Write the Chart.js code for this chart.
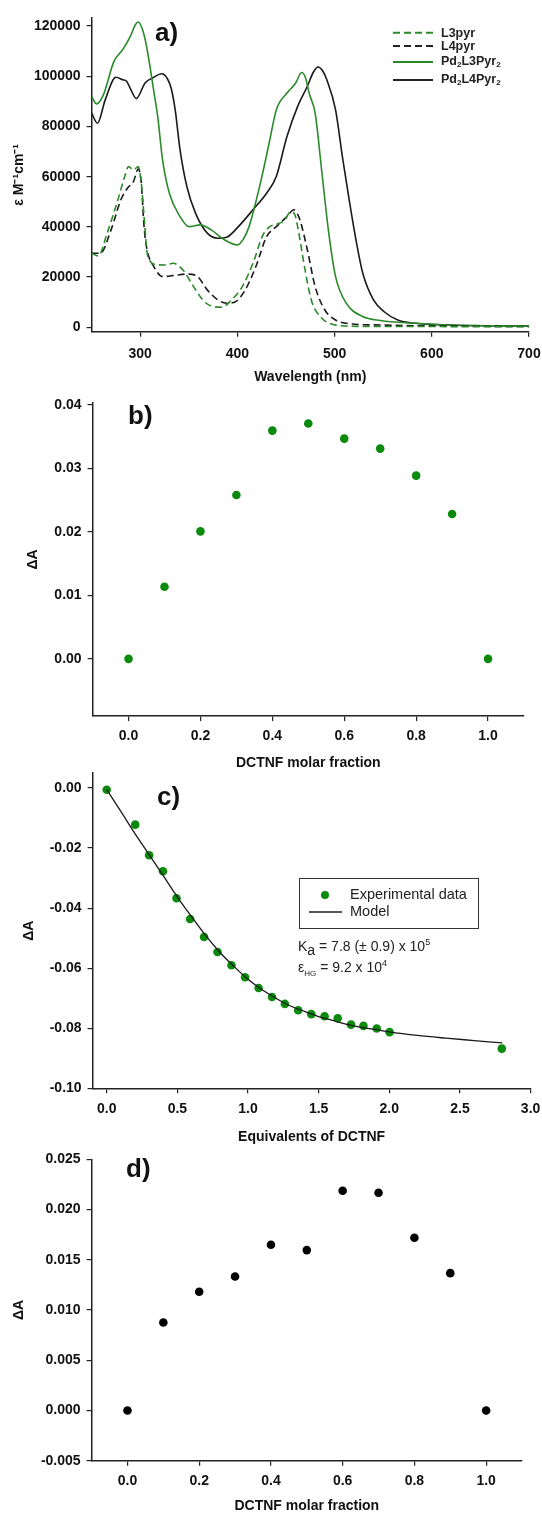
<!DOCTYPE html>
<html><head><meta charset="utf-8">
<script src="https://cdn.jsdelivr.net/npm/chart.js@4.4.0/dist/chart.umd.min.js"></script>
<style>
html,body{margin:0;padding:0;background:#fff;overflow:hidden;}
body{width:542px;height:1513px;position:relative;overflow:hidden;font-family:"Liberation Sans",Arial,sans-serif;color:#111;}
canvas{position:absolute;left:0;}
.plab{position:absolute;font-weight:bold;font-size:26px;line-height:26px;color:#111;white-space:nowrap;}
.leg{position:absolute;font-weight:bold;font-size:12.5px;line-height:12px;color:#222;white-space:nowrap;}
.leg sub{font-size:8px;vertical-align:-2px;line-height:0;}
.lsvg{position:absolute;}
.ktxt{position:absolute;font-size:14px;line-height:14px;color:#222;white-space:nowrap;}
.ktxt sup{font-size:9px;vertical-align:6px;line-height:0;}
.ktxt sub.a{font-size:14px;vertical-align:-4px;line-height:0;}
.ktxt sub.hg{font-size:8px;vertical-align:-4px;line-height:0;}
#cbox{position:absolute;left:299px;top:878px;width:180px;height:51px;box-sizing:border-box;border:1.5px solid #333;}
.ctxt{position:absolute;font-size:14.5px;line-height:15px;color:#222;white-space:nowrap;}
</style>
</head><body>
<canvas id="ca" width="600" height="390" style="top:0px"></canvas>
<canvas id="cb" width="600" height="388" style="top:388px"></canvas>
<canvas id="cc" width="600" height="391" style="top:758px"></canvas>
<canvas id="cd" width="600" height="369" style="top:1144px"></canvas>

<div class="plab" style="left:155px;top:19px">a)</div>
<div class="plab" style="left:128px;top:402px">b)</div>
<div class="plab" style="left:157px;top:783px">c)</div>
<div class="plab" style="left:126px;top:1155px">d)</div>

<!-- legend a -->
<svg class="lsvg" style="left:393px;top:27px" width="42" height="60">
  <line x1="0" y1="5.7" x2="40" y2="5.7" stroke="#2a8a2a" stroke-width="2" stroke-dasharray="7,4"/>
  <line x1="0" y1="19" x2="40" y2="19" stroke="#222" stroke-width="2" stroke-dasharray="7,4"/>
  <line x1="0" y1="35" x2="40" y2="35" stroke="#2a8a2a" stroke-width="2"/>
  <line x1="0" y1="53" x2="40" y2="53" stroke="#222" stroke-width="2"/>
</svg>
<div class="leg" style="left:441px;top:26.5px">L3pyr</div>
<div class="leg" style="left:441px;top:40px">L4pyr</div>
<div class="leg" style="left:441px;top:55px">Pd<sub>2</sub>L3Pyr<sub>2</sub></div>
<div class="leg" style="left:441px;top:73px">Pd<sub>2</sub>L4Pyr<sub>2</sub></div>

<!-- legend c -->
<div id="cbox"></div>
<svg class="lsvg" style="left:305px;top:888px" width="40" height="30">
  <circle cx="20" cy="7" r="4" fill="#0b8a0b"/>
  <line x1="4" y1="24" x2="37" y2="24" stroke="#222" stroke-width="1.5"/>
</svg>
<div class="ctxt" style="left:350px;top:887px">Experimental data</div>
<div class="ctxt" style="left:350px;top:904px">Model</div>
<div class="ktxt" style="left:298px;top:939px">K<sub class="a">a</sub> = 7.8 (± 0.9) x 10<sup>5</sup></div>
<div class="ktxt" style="left:298px;top:960px">ε<sub class="hg">HG</sub> = 9.2 x 10<sup>4</sup></div>

<script>
// ---------- Panel a: UV-vis spectra ----------
const wlL3pyr = [250,257,266,277,284,288,293,298,301,304,307,311,316,325,334,344,355,366,376,384,394,405,416,426,433,440,448,455,459,462,469,476,487,497,512,550,600,650,700];
const epsL3pyr = [29500,28400,37500,50700,60000,64000,62700,64000,58000,44000,30000,26000,25000,24800,25500,22800,16200,10200,8200,8000,10900,16200,25500,36500,40000,41000,42500,46000,45000,40100,24200,10900,3600,1300,500,300,300,200,200];

const wlL4pyr = [250,259,270,280,287,293,298,301,304,307,314,323,337,348,359,369,380,389,398,408,419,430,440,451,458,462,465,472,480,490,501,512,547,618,700];
const epsL4pyr = [29500,29500,38800,50700,55500,58000,63000,58000,40000,31000,24200,20200,20800,21200,20200,14900,10900,9600,10200,14900,24200,36100,40100,44100,46800,45000,42000,30800,16200,6900,2900,1600,900,500,300];

const wlPdL3 = [250,255,262,273,282,290,295,298,302,306,310,314,318,323,330,341,350,362,373,387,400,406,412,419,426,433,440,451,460,466,470,474,480,487,494,501,512,529,547,583,618,700];
const epsPdL3 = [92000,89000,92500,105900,110600,116000,120500,121600,119000,113000,104000,94000,84000,66700,53400,44100,40100,40800,38800,34800,32800,35000,40100,50000,61400,74000,86600,93300,97300,101500,99500,93000,85300,61400,37500,20200,9600,4300,2700,1600,900,500];

const wlPdL4 = [250,256,264,275,282,286,290,296,305,314,322,328,332,336,341,348,357,369,380,389,401,416,430,440,451,462,472,478,483,488,492,501,508,515,522,529,540,551,565,583,618,700];
const epsPdL4 = [85300,81300,90600,99600,98600,98000,95000,91100,97300,99600,101000,99000,95000,86600,70700,56100,45400,37500,35500,35900,40100,46800,53400,60100,76000,88000,96000,101500,103700,102000,98600,86600,68000,50800,34800,21500,10900,6200,2900,1600,900,500];

const aXTicks = [300,400,500,600,700];
const aYTicks = [0,20000,40000,60000,80000,100000,120000];

// ---------- Panel b: Job plot (green) ----------
const bFraction = [0.0,0.1,0.2,0.3,0.4,0.5,0.6,0.7,0.8,0.9,1.0];
const bDeltaA = [0.0,0.01135,0.02008,0.0258,0.03595,0.03706,0.03469,0.03312,0.02886,0.02281,0.0];
const bXTicks = [0.0,0.2,0.4,0.6,0.8,1.0];
const bYTicks = [0.0,0.01,0.02,0.03,0.04];

// ---------- Panel c: titration ----------
const cEquiv = [0.0,0.2016,0.300,0.398,0.494,0.590,0.689,0.784,0.883,0.979,1.075,1.170,1.261,1.355,1.448,1.542,1.635,1.729,1.817,1.911,2.002,2.796];
const cDeltaA = [-0.00056,-0.0122,-0.0224,-0.0277,-0.0367,-0.0436,-0.0496,-0.0546,-0.0590,-0.0630,-0.0666,-0.0696,-0.0719,-0.0740,-0.0753,-0.0760,-0.0767,-0.0788,-0.0792,-0.0801,-0.0813,-0.0868];
const modelEquiv = [0.0,0.1,0.2,0.3,0.4,0.5,0.6,0.7,0.8,0.9,1.0,1.1,1.2,1.3,1.4,1.5,1.6,1.7,1.8,1.9,2.0,2.2,2.4,2.6,2.8];
const modelDeltaA = [-0.0005,-0.0078,-0.0152,-0.0222,-0.0292,-0.0363,-0.0428,-0.0491,-0.0547,-0.0594,-0.0637,-0.0672,-0.0701,-0.0726,-0.0744,-0.0761,-0.0774,-0.0787,-0.0797,-0.0804,-0.0812,-0.0824,-0.0833,-0.0841,-0.0849];
const cXTicks = [0.0,0.5,1.0,1.5,2.0,2.5,3.0];
const cYTicks = [-0.10,-0.08,-0.06,-0.04,-0.02,0.0];

// ---------- Panel d: Job plot (black) ----------
const dFraction = [0.0,0.1,0.2,0.3,0.4,0.5,0.6,0.7,0.8,0.9,1.0];
const dDeltaA = [0.0,0.00876,0.01181,0.01334,0.01649,0.01596,0.02187,0.02167,0.01719,0.01367,0.0];
const dXTicks = [0.0,0.2,0.4,0.6,0.8,1.0];
const dYTicks = [-0.005,0.0,0.005,0.010,0.015,0.020,0.025];

const FONT = "'Liberation Sans', Arial, sans-serif";
const GREEN_LINE = '#2a8a2a';
const GREEN_DOT = '#0b8a0b';
const BLACK = '#1a1a1a';

const pts = (xs, ys) => xs.map((x, i) => ({x: x, y: ys[i]}));

function scales(p) {
  const tickFont = {family: FONT, size: 14, weight: 'bold'};
  const titleFont = {family: FONT, size: 14, weight: 'bold', lineHeight: 1};
  return {
    x: {
      type: 'linear', position: 'bottom', min: p.xmin, max: p.xmax,
      grid: {drawOnChartArea: false, drawTicks: true, tickLength: 5, color: '#222', lineWidth: 1.2},
      border: {display: true, color: '#222', width: 1.5},
      ticks: {color: '#111', font: tickFont, padding: p.xpad, maxRotation: 0, autoSkip: false, callback: p.xfmt},
      afterBuildTicks: s => { s.ticks = p.xticks.map(v => ({value: v})); },
      afterFit: s => { s.height = p.xh; },
      title: {display: true, text: p.xtitle, color: '#111', font: titleFont, padding: {top: 0, bottom: p.xtpad}}
    },
    y: {
      type: 'linear', position: 'left', min: p.ymin, max: p.ymax,
      grid: {drawOnChartArea: false, drawTicks: true, tickLength: 5, color: '#222', lineWidth: 1.2},
      border: {display: true, color: '#222', width: 1.5},
      ticks: {color: '#111', font: tickFont, padding: 6, autoSkip: false, callback: p.yfmt},
      afterBuildTicks: s => { s.ticks = p.yticks.map(v => ({value: v})); },
      afterFit: s => { s.width = p.yw; },
      title: {display: true, text: p.ytitle, color: '#111', font: titleFont, padding: {top: p.ytpad, bottom: 0}}
    }
  };
}

function baseOpts(p) {
  return {
    responsive: false, animation: false, devicePixelRatio: 1, events: [],
    layout: {padding: {left: 0, top: p.padTop, right: p.padRight, bottom: 0}},
    plugins: {legend: {display: false}, tooltip: {enabled: false}, title: {display: false}},
    scales: scales(p)
  };
}

// Panel a
new Chart(document.getElementById('ca'), {
  type: 'line',
  data: {datasets: [
    {data: pts(wlL3pyr, epsL3pyr), borderColor: GREEN_LINE, borderDash: [7, 4], borderWidth: 1.6, pointRadius: 0, cubicInterpolationMode: 'monotone', fill: false},
    {data: pts(wlL4pyr, epsL4pyr), borderColor: BLACK, borderDash: [7, 4], borderWidth: 1.6, pointRadius: 0, cubicInterpolationMode: 'monotone', fill: false},
    {data: pts(wlPdL3, epsPdL3), borderColor: GREEN_LINE, borderWidth: 1.6, pointRadius: 0, cubicInterpolationMode: 'monotone', fill: false},
    {data: pts(wlPdL4, epsPdL4), borderColor: BLACK, borderWidth: 1.6, pointRadius: 0, cubicInterpolationMode: 'monotone', fill: false}
  ]},
  options: baseOpts({
    xmin: 250, xmax: 700, ymin: -1750, ymax: 123200,
    xticks: aXTicks, yticks: aYTicks,
    xfmt: v => String(v), yfmt: v => String(v),
    xtitle: 'Wavelength (nm)', ytitle: 'ε M⁻¹cm⁻¹',
    padTop: 18, padRight: 71, xh: 58.3, yw: 91.6, xtpad: 6.3, ytpad: 12.5, xpad: 9
  })
});

// Panel b
new Chart(document.getElementById('cb'), {
  type: 'scatter',
  data: {datasets: [
    {data: pts(bFraction, bDeltaA), backgroundColor: GREEN_DOT, borderColor: GREEN_DOT, pointRadius: 4.3, borderWidth: 0}
  ]},
  options: baseOpts({
    xmin: -0.1, xmax: 1.1, ymin: -0.009, ymax: 0.0403,
    xticks: bXTicks, yticks: bYTicks,
    xfmt: v => v.toFixed(1), yfmt: v => v.toFixed(2),
    xtitle: 'DCTNF molar fraction', ytitle: 'ΔA',
    padTop: 15, padRight: 76, xh: 60, yw: 92.6, xtpad: 5.7, ytpad: 25.8, xpad: 7
  })
});

// Panel c
new Chart(document.getElementById('cc'), {
  type: 'scatter',
  data: {datasets: [
    {type: 'line', data: pts(modelEquiv, modelDeltaA), borderColor: BLACK, borderWidth: 1.3, pointRadius: 0, cubicInterpolationMode: 'monotone', fill: false},
    {data: pts(cEquiv, cDeltaA), backgroundColor: GREEN_DOT, borderColor: GREEN_DOT, pointRadius: 4.3, borderWidth: 0}
  ]},
  options: baseOpts({
    xmin: -0.1, xmax: 3.0, ymin: -0.1, ymax: 0.005,
    xticks: cXTicks, yticks: cYTicks,
    xfmt: v => v.toFixed(1), yfmt: v => v.toFixed(2),
    xtitle: 'Equivalents of DCTNF', ytitle: 'ΔA',
    padTop: 15, padRight: 69.4, xh: 60.7, yw: 92.6, xtpad: 5.3, ytpad: 22.4, xpad: 7
  })
});

// Panel d
new Chart(document.getElementById('cd'), {
  type: 'scatter',
  data: {datasets: [
    {data: pts(dFraction, dDeltaA), backgroundColor: '#000', borderColor: '#000', pointRadius: 4.3, borderWidth: 0}
  ]},
  options: baseOpts({
    xmin: -0.1, xmax: 1.1, ymin: -0.005, ymax: 0.025,
    xticks: dXTicks, yticks: dYTicks,
    xfmt: v => v.toFixed(1), yfmt: v => v.toFixed(3),
    xtitle: 'DCTNF molar fraction', ytitle: 'ΔA',
    padTop: 15.3, padRight: 78, xh: 52.3, yw: 91.6, xtpad: 0, ytpad: 12, xpad: 7
  })
});
</script>
</body></html>
